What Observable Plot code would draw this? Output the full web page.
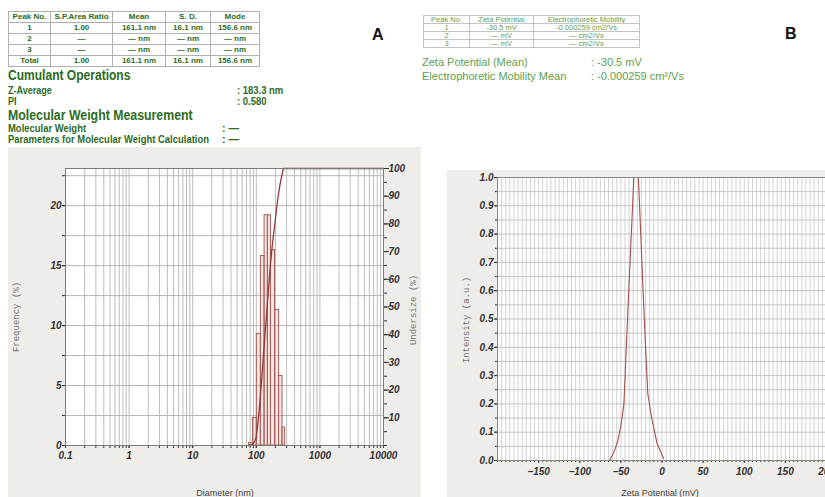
<!DOCTYPE html>
<html><head><meta charset="utf-8">
<script src="https://cdn.jsdelivr.net/npm/d3@7"></script>
<script src="https://cdn.jsdelivr.net/npm/@observablehq/plot@0.6"></script>
<style>
html,body{margin:0;padding:0;background:#fff;}
#page{position:relative;width:825px;height:497px;overflow:hidden;font-family:"Liberation Sans",Arial,sans-serif;}
.abs{position:absolute;white-space:nowrap;line-height:1;}
.narrow{transform-origin:0 50%;}
table.t{position:absolute;border-collapse:collapse;table-layout:fixed;}
table.t td{border:1px solid #b0b0b0;text-align:center;padding:0;overflow:hidden;white-space:nowrap;}
#tA td{font:bold 8px "Liberation Sans",Arial,sans-serif;color:#2d6b22;height:10px;line-height:10px;}
#tB td{font:7.5px "Liberation Sans",Arial,sans-serif;color:#5e9e4e;height:7px;line-height:7px;border-color:#c4c4c4;}
.g1{color:#2d6b22;font-weight:bold;}
.g2{color:#5e9e4e;}
.rot{transform:translate(-50%,-50%) rotate(-90deg);font-family:"Liberation Mono","DejaVu Sans Mono",monospace;font-size:9px;color:#777;}
.xt{transform:translate(-50%,-50%);font-size:9px;color:#444;}
#chartA,#chartB{position:absolute;}
</style></head>
<body><div id="page"></div>
<script>
// ---------- data ----------
const psdHeader = ["Peak No.", "S.P.Area Ratio", "Mean", "S. D.", "Mode"];
const psdRow1 = ["1", "1.00", "161.1 nm", "16.1 nm", "156.6 nm"];
const psdRow2 = ["2", "—", "— nm", "— nm", "— nm"];
const psdRow3 = ["3", "—", "— nm", "— nm", "— nm"];
const psdTotal = ["Total", "1.00", "161.1 nm", "16.1 nm", "156.6 nm"];

const zetaHeader = ["Peak No.", "Zeta Potential", "Electrophoretic Mobility"];
const zetaRow1 = ["1", "-30.5 mV", "-0.000259 cm2/Vs"];
const zetaRow2 = ["2", "— mV", "— cm2/Vs"];
const zetaRow3 = ["3", "— mV", "— cm2/Vs"];

// histogram: bin edges (nm) and frequency (%)
const diamEdges = [77, 89, 102, 118, 135, 152, 170, 197, 228, 258, 284];
const freqPct = [0.2, 2.3, 9.3, 15.8, 19.2, 19.2, 16.3, 11.3, 5.8, 1.5];
// cumulative undersize curve
const undersizeD = [75, 85, 95, 100, 108, 118, 130, 148, 165, 180, 198, 215, 235, 255, 270, 10000];
const undersizePct = [0, 0.3, 1.5, 3.5, 10, 20, 33, 50, 64, 73, 81, 88, 94, 98, 100, 100];
const freqAxisMax = 23.1; // frequency value aligned with 100 % undersize

const diamTicks = [0.1, 1, 10, 100, 1000, 10000];
const freqTicks = [0, 5, 10, 15, 20];
const undersizeTicks = [10, 20, 30, 40, 50, 60, 70, 80, 90, 100];

// zeta potential distribution
const zetaMV = [-63.7, -57.7, -53.6, -49.6, -46.3, -41.5, -34.2, -28.7, -21.4, -17.3, -12.5, -6, 2];
const zetaIntensity = [0, 0.035, 0.07, 0.13, 0.2, 0.53, 1.0, 1.0, 0.49, 0.236, 0.15, 0.06, 0.007];
const zetaTicks = [-150, -100, -50, 0, 50, 100, 150, 200];
const intensityTicks = [0, 0.1, 0.2, 0.3, 0.4, 0.5, 0.6, 0.7, 0.8, 0.9, 1.0];

// ---------- page text ----------
const page = document.getElementById("page");
function addTable(id, rows, widths, left, top) {
  const t = document.createElement("table");
  t.className = "t"; t.id = id;
  t.style.left = left + "px"; t.style.top = top + "px";
  const cg = document.createElement("colgroup");
  widths.forEach(w => { const c = document.createElement("col"); c.style.width = w + "px"; cg.appendChild(c); });
  t.appendChild(cg);
  rows.forEach(r => {
    const tr = document.createElement("tr");
    r.forEach(v => { const td = document.createElement("td"); td.textContent = v; tr.appendChild(td); });
    t.appendChild(tr);
  });
  page.appendChild(t);
}
addTable("tA", [psdHeader, psdRow1, psdRow2, psdRow3, psdTotal], [42, 62, 53, 45, 49], 8, 11);
addTable("tB", [zetaHeader, zetaRow1, zetaRow2, zetaRow3], [46, 64, 106], 423, 15);

function addText(txt, cls, css) {
  const d = document.createElement("div");
  d.className = "abs " + cls; d.textContent = txt;
  Object.assign(d.style, css);
  page.appendChild(d);
}
addText("Cumulant Operations", "g1 narrow", {left: "8px", top: "68px", fontSize: "14px", transform: "scaleX(0.86)"});
addText("Z-Average", "g1 narrow", {left: "8px", top: "85px", fontSize: "10.5px", transform: "scaleX(0.86)"});
addText(": 183.3 nm", "g1 narrow", {left: "237px", top: "85px", fontSize: "10.5px", transform: "scaleX(0.9)"});
addText("PI", "g1 narrow", {left: "8px", top: "95.5px", fontSize: "10.5px", transform: "scaleX(0.86)"});
addText(": 0.580", "g1 narrow", {left: "237px", top: "95.5px", fontSize: "10.5px", transform: "scaleX(0.9)"});
addText("Molecular Weight Measurement", "g1 narrow", {left: "8px", top: "108px", fontSize: "14px", transform: "scaleX(0.88)"});
addText("Molecular Weight", "g1 narrow", {left: "8px", top: "123px", fontSize: "10.5px", transform: "scaleX(0.9)"});
addText(": —", "g1 narrow", {left: "222px", top: "123px", fontSize: "10.5px"});
addText("Parameters for Molecular Weight Calculation", "g1 narrow", {left: "8px", top: "133.5px", fontSize: "10.5px", transform: "scaleX(0.9)"});
addText(": —", "g1 narrow", {left: "222px", top: "133.5px", fontSize: "10.5px"});

addText("Zeta Potential (Mean)", "g2", {left: "422px", top: "57px", fontSize: "11px"});
addText(":  -30.5 mV", "g2", {left: "591px", top: "57px", fontSize: "11px"});
addText("Electrophoretic Mobility Mean", "g2", {left: "422px", top: "71px", fontSize: "11px"});
addText(":  -0.000259 cm²/Vs", "g2", {left: "591px", top: "71px", fontSize: "11px"});

addText("A", "", {left: "372px", top: "27px", fontSize: "16px", fontWeight: "bold", color: "#111"});
addText("B", "", {left: "785px", top: "26px", fontSize: "16px", fontWeight: "bold", color: "#111"});

// ---------- chart A ----------
const bins = freqPct.map((f, i) => ({x1: diamEdges[i], x2: diamEdges[i + 1], f}));
const cum = undersizeD.map((d, i) => ({d, y: undersizePct[i] * freqAxisMax / 100}));
const logGrid = [];
for (let e = -1; e < 4; e++) for (let k = 1; k <= 9; k++) logGrid.push(+(k * Math.pow(10, e)).toPrecision(3));
logGrid.push(10000);
const freqGrid = d3.range(0, freqAxisMax, 2.5);
const toFreq = u => u * freqAxisMax / 100;

const chartA = Plot.plot({
  width: 413, height: 350,
  marginLeft: 57, marginRight: 38, marginTop: 21, marginBottom: 52,
  x: {type: "log", domain: [0.1, 10000]},
  y: {domain: [0, freqAxisMax]},
  style: {background: "#efedea", fontFamily: "'Liberation Sans', Arial, sans-serif", fontSize: "10px", fontWeight: "bold", fontStyle: "italic", color: "#333"},
  marks: [
    Plot.frame({fill: "white", stroke: null}),
    Plot.gridX(logGrid, {stroke: "#bdbdbd", strokeOpacity: 1}),
    Plot.gridY(freqGrid, {stroke: "#b5b5b5", strokeOpacity: 1}),
    Plot.rectY(bins, {x1: "x1", x2: "x2", y: "f", fill: "#e8b0aa", fillOpacity: 0.3, stroke: "#a55e58", strokeWidth: 1}),
    Plot.line(cum, {x: "d", y: "y", stroke: "#8c3b36", strokeWidth: 1.3, curve: "monotone-x"}),
    Plot.axisX({ticks: diamTicks, tickSize: 3, tickPadding: 3, tickFormat: d => String(d), label: null}),
    Plot.axisX({ticks: logGrid, tickSize: 3, tickFormat: () => "", label: null}),
    Plot.axisY({ticks: freqTicks, tickSize: 3, tickPadding: 1, label: null}),
    Plot.axisY({ticks: freqGrid, tickSize: 3, tickFormat: () => "", label: null}),
    Plot.axisY({anchor: "right", ticks: undersizeTicks.map(toFreq), tickSize: 5, tickPadding: 0, tickFormat: d => String(Math.round(d * 100 / freqAxisMax)), label: null}),
    Plot.axisY({anchor: "right", ticks: d3.range(0, 101, 5).map(toFreq), tickSize: 3, tickFormat: () => "", label: null}),
    Plot.frame({stroke: "#7a7a7a"})
  ]
});
chartA.id = "chartA";
chartA.style.left = "8px"; chartA.style.top = "147px";
page.appendChild(chartA);

// ---------- chart B ----------
const zeta = zetaMV.map((x, i) => ({x, y: zetaIntensity[i]}));
const chartB = Plot.plot({
  width: 380, height: 327,
  marginLeft: 50, marginRight: 1, marginTop: 7, marginBottom: 37,
  x: {domain: [-200, 200]},
  y: {domain: [0, 1]},
  style: {background: "#efedea", fontFamily: "'Liberation Sans', Arial, sans-serif", fontSize: "10px", fontWeight: "bold", fontStyle: "italic", color: "#333"},
  marks: [
    Plot.frame({fill: "white", stroke: null}),
    Plot.gridX(d3.range(-200, 201, 5), {stroke: "#d2d2d2", strokeOpacity: 1}),
    Plot.gridY(d3.range(0, 1.001, 0.05), {stroke: "#c4c4c4", strokeOpacity: 1}),
    Plot.line(zeta, {x: "x", y: "y", stroke: "#a0504c", strokeWidth: 1.1}),
    Plot.axisX({ticks: zetaTicks, tickSize: 3, tickPadding: 4, label: null}),
    Plot.axisX({ticks: d3.range(-200, 201, 5), tickSize: 2, tickFormat: () => "", label: null}),
    Plot.axisY({ticks: intensityTicks, tickSize: 3, tickPadding: 1, tickFormat: d3.format(".1f"), label: null}),
    Plot.axisY({ticks: d3.range(0, 1.001, 0.05), tickSize: 2, tickFormat: () => "", label: null}),
    Plot.frame({stroke: "#8a8a8a"})
  ]
});
chartB.id = "chartB";
chartB.style.left = "447px"; chartB.style.top = "170px";
page.appendChild(chartB);

// axis titles
addText("Frequency (%)", "rot", {left: "17px", top: "317px"});
addText("Undersize (%)", "rot", {left: "414px", top: "310px"});
addText("Intensity (a.u.)", "rot", {left: "467px", top: "320px"});
addText("Diameter (nm)", "xt", {left: "225px", top: "493px"});
addText("Zeta Potential (mV)", "xt", {left: "660px", top: "493px"});
</script>
</body></html>
